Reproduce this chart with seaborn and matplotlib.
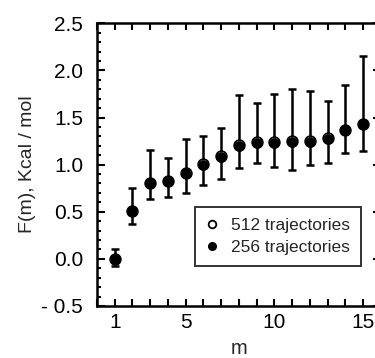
import numpy as np
import pandas as pd
import matplotlib
matplotlib.use('Agg')
import matplotlib.pyplot as plt
import seaborn as sns
from matplotlib.ticker import MultipleLocator, FuncFormatter

m = [1, 2, 3, 4, 5, 6, 7, 8, 9, 10, 11, 12, 13, 14, 15]
f_256 = [0.0, 0.51, 0.80, 0.83, 0.91, 1.00, 1.08, 1.20, 1.23, 1.23, 1.24, 1.245, 1.27, 1.37, 1.43]
f_512 = [0.0, 0.51, 0.81, 0.83, 0.91, 1.01, 1.09, 1.21, 1.235, 1.235, 1.25, 1.25, 1.28, 1.37, 1.43]
err_hi = [0.10, 0.75, 1.15, 1.07, 1.27, 1.30, 1.39, 1.74, 1.65, 1.75, 1.80, 1.78, 1.68, 1.84, 2.15]
err_lo = [-0.08, 0.37, 0.63, 0.66, 0.70, 0.78, 0.85, 0.96, 1.02, 0.98, 0.94, 1.00, 1.02, 1.12, 1.14]

df = pd.DataFrame({'m': m, 'f256': f_256, 'f512': f_512})

sns.set_style('ticks')
plt.rcParams['font.family'] = ['Liberation Sans', 'DejaVu Sans']

fig = plt.figure(figsize=(3.75, 3.58), dpi=100)
ax = fig.add_axes([0.2587, 0.1453, 0.7565, 0.7897])

yerr = [np.array(f_256) - np.array(err_lo), np.array(err_hi) - np.array(f_256)]
ax.errorbar(m, f_256, yerr=yerr, fmt='none', ecolor='black', elinewidth=1.8,
            capsize=3, capthick=1.8, zorder=2)

sns.scatterplot(data=df, x='m', y='f512', ax=ax, marker='o', s=60,
                facecolor='white', edgecolor='black', linewidth=1.2, zorder=3)
sns.scatterplot(data=df, x='m', y='f256', ax=ax, marker='o', s=52,
                color='black', edgecolor='black', linewidth=0.5, zorder=4)

ax.set_xlim(0, 16)
ax.set_ylim(-0.5, 2.5)
ax.set_xticks([1, 5, 10, 15])
ax.xaxis.set_minor_locator(MultipleLocator(1))
ax.yaxis.set_major_locator(MultipleLocator(0.5))
ax.yaxis.set_minor_locator(MultipleLocator(0.1))
ax.yaxis.set_major_formatter(FuncFormatter(
    lambda v, p: ('- %.1f' % abs(v)) if v < -1e-9 else '%.1f' % v))

ax.tick_params(which='both', direction='in', top=True, right=True, width=1.5,
               colors='black')
ax.tick_params(axis='y', which='major', length=6, pad=10, labelsize=15)
ax.tick_params(axis='y', which='minor', length=3)
ax.tick_params(axis='x', which='major', length=5, pad=5, labelsize=15)
ax.tick_params(axis='x', which='minor', length=5)
for s in ax.spines.values():
    s.set_linewidth(1.8)
    s.set_color('black')

ax.set_xlabel('m', fontsize=14.5, labelpad=5)
ax.set_ylabel('F(m), Kcal / mol', fontsize=14, labelpad=4)

h1 = plt.Line2D([], [], marker='o', ls='none', mfc='white', mec='black', ms=5.5, mew=1.3)
h2 = plt.Line2D([], [], marker='o', ls='none', mfc='black', mec='black', ms=5.5)
leg = ax.legend([h1, h2], ['512 trajectories', '256 trajectories'],
                loc='lower right', bbox_to_anchor=(0.93, 0.143), fontsize=12.5,
                frameon=True, fancybox=False, edgecolor='black',
                handlelength=0.8, handletextpad=0.7, borderpad=0.6,
                labelspacing=0.4, borderaxespad=0)
leg.get_frame().set_linewidth(1.4)

fig.savefig('out.png', dpi=100)
